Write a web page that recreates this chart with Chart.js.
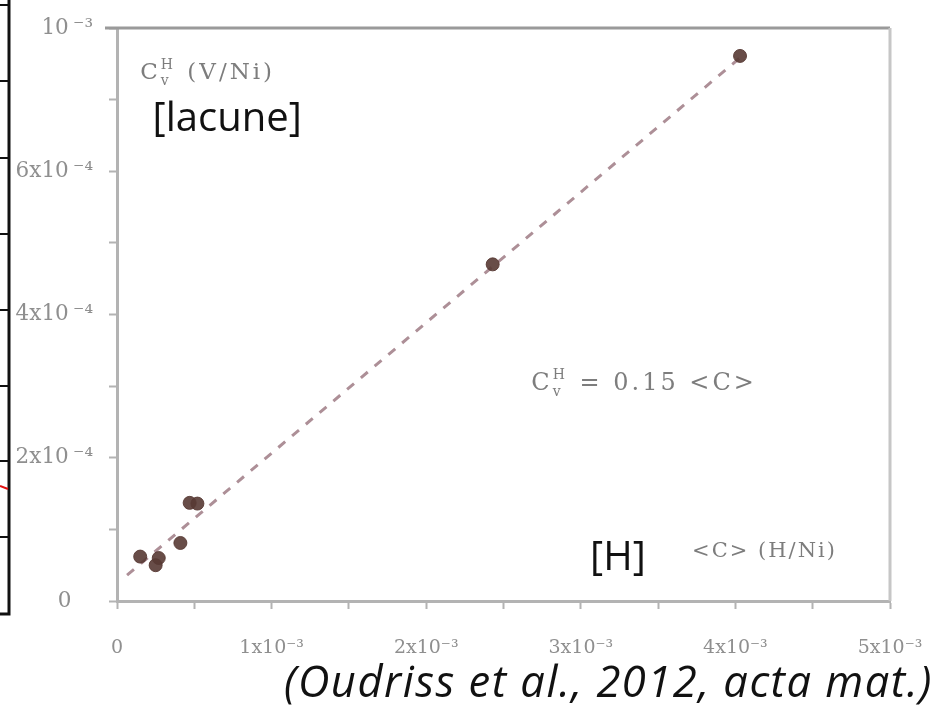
<!DOCTYPE html>
<html>
<head>
<meta charset="utf-8">
<script src="https://cdn.jsdelivr.net/npm/chart.js@4.4.1/dist/chart.umd.min.js"></script>
<style>
  html, body { margin: 0; padding: 0; background: #fff; }
  #wrap { width: 940px; height: 709px; position: relative; }
</style>
</head>
<body>
<div id="wrap"><canvas id="vacancyChart" width="940" height="709"></canvas></div>
<script>
// <C> (H/Ni) against vacancy concentration C_v^H (V/Ni)
const bulkH = [0.15e-3, 0.25e-3, 0.27e-3, 0.41e-3, 0.47e-3, 0.52e-3, 2.43e-3, 4.03e-3];
const vacancy = [0.62e-4, 0.50e-4, 0.60e-4, 0.81e-4, 1.37e-4, 1.36e-4, 4.70e-4, 7.61e-4];

// dashed trend line end points
const fitX = [0.065e-3, 4.06e-3];
const fitY = [0.36e-4, 7.64e-4];

const xTickValues = [0, 0.5e-3, 1e-3, 1.5e-3, 2e-3, 2.5e-3, 3e-3, 3.5e-3, 4e-3, 4.5e-3, 5e-3];
const xTickLabels = ['0', '', '1x10⁻³', '', '2x10⁻³', '', '3x10⁻³', '', '4x10⁻³', '', '5x10⁻³'];
const yTickValues = [0, 1e-4, 2e-4, 3e-4, 4e-4, 5e-4, 6e-4, 7e-4, 8e-4];
const yTickLabels = ['0\u2002\u2002', '', '2x10\u2009⁻⁴', '', '4x10\u2009⁻⁴', '', '6x10\u2009⁻⁴', '', '10\u2009⁻³'];

const axisGray = '#b3b3b3';
const labelGray = '#8f8f8f';
const serif = '"DejaVu Serif", "Liberation Serif", serif';

// text placed inside the plot, anchored in data units
const notes = [
    { x: 0.15e-3, y: 7.29e-4, base: 'C', sup: 'H', sub: 'v', rest: ' (V/Ni)', size: 23, spacing: 3 },
    { x: 3.72e-3, y: 0.61e-4, base: '<C> (H/Ni)', size: 21, spacing: 2 },
    { x: 2.68e-3, y: 2.95e-4, base: 'C', sup: 'H', sub: 'v', rest: ' = 0.15 <C>', size: 24, spacing: 3 }
];
const tags = [
    { x: 0.23e-3, y: 6.56e-4, text: '[lacune]' },
    { x: 3.06e-3, y: 0.43e-4, text: '[H]' }
];

function drawNote(ctx, px, py, n) {
    ctx.fillStyle = '#7d7d7d';
    ctx.textBaseline = 'alphabetic';
    ctx.textAlign = 'left';
    ctx.letterSpacing = n.spacing + 'px';
    ctx.font = n.size + 'px ' + serif;
    ctx.fillText(n.base, px, py);
    let cx = px + ctx.measureText(n.base).width;
    if (n.sup) {
        const small = Math.round(n.size * 0.6);
        ctx.font = small + 'px ' + serif;
        ctx.fillText(n.sup, cx, py - n.size * 0.45);
        ctx.fillText(n.sub, cx, py + n.size * 0.25);
        cx += Math.max(ctx.measureText(n.sup).width, ctx.measureText(n.sub).width) + 1;
        ctx.font = n.size + 'px ' + serif;
        ctx.fillText(n.rest, cx, py);
    }
    ctx.letterSpacing = '0px';
}

const decorations = {
    id: 'decorations',
    afterDraw(chart) {
        const { ctx, chartArea: a, scales: { x, y } } = chart;
        ctx.save();

        // top and right frame
        ctx.lineWidth = 3;
        ctx.strokeStyle = '#9a9a9a';
        ctx.beginPath();
        ctx.moveTo(a.left - 12, a.top);
        ctx.lineTo(a.right, a.top);
        ctx.stroke();
        ctx.strokeStyle = '#c6c6c6';
        ctx.beginPath();
        ctx.moveTo(a.right, a.top);
        ctx.lineTo(a.right, a.bottom);
        ctx.stroke();

        notes.forEach(n => drawNote(ctx, x.getPixelForValue(n.x), y.getPixelForValue(n.y), n));

        ctx.fillStyle = '#111';
        ctx.font = '40px "Open Sans", "Liberation Sans", sans-serif';
        tags.forEach(t => ctx.fillText(t.text, x.getPixelForValue(t.x), y.getPixelForValue(t.y)));

        // source line under the axis
        ctx.textAlign = 'right';
        ctx.letterSpacing = '1.5px';
        ctx.font = 'italic 43.5px "Open Sans", "Liberation Sans", sans-serif';
        ctx.fillText('(Oudriss et al., 2012, acta mat.)', 933, 697);
        ctx.letterSpacing = '0px';

        // edge of the neighbouring panel
        ctx.strokeStyle = '#111';
        ctx.lineWidth = 3;
        ctx.beginPath();
        ctx.moveTo(9, 0);
        ctx.lineTo(9, 614);
        ctx.lineTo(0, 614);
        ctx.stroke();
        ctx.lineWidth = 2;
        [5, 81, 158, 234, 310, 386, 461, 537].forEach(ty => {
            ctx.beginPath();
            ctx.moveTo(0, ty);
            ctx.lineTo(9, ty);
            ctx.stroke();
        });
        ctx.strokeStyle = '#e01010';
        ctx.beginPath();
        ctx.moveTo(0, 486);
        ctx.lineTo(8, 489);
        ctx.stroke();

        ctx.restore();
    }
};

new Chart(document.getElementById('vacancyChart'), {
    type: 'scatter',
    data: {
        datasets: [
            {
                label: 'fit',
                data: fitX.map((v, i) => ({ x: v, y: fitY[i] })),
                showLine: true,
                borderColor: '#ad8f97',
                borderWidth: 3,
                borderDash: [9, 9],
                pointRadius: 0,
                order: 2
            },
            {
                label: 'C_v^H',
                data: bulkH.map((v, i) => ({ x: v, y: vacancy[i] })),
                backgroundColor: 'rgba(88, 58, 52, 0.9)',
                borderColor: 'rgba(88, 58, 52, 0.9)',
                pointRadius: 6.5,
                order: 1
            }
        ]
    },
    options: {
        responsive: false,
        animation: false,
        layout: { padding: { top: 28, right: 50, left: 0, bottom: 0 } },
        plugins: {
            legend: { display: false },
            tooltip: { enabled: false }
        },
        scales: {
            x: {
                type: 'linear',
                min: 0,
                max: 5e-3,
                afterFit: scale => {
                    scale.height = 108;
                    scale.paddingLeft = 0;
                    scale.paddingRight = 0;
                },
                afterBuildTicks: axis => { axis.ticks = xTickValues.map(v => ({ value: v })); },
                border: { color: axisGray, width: 3 },
                grid: { drawOnChartArea: false, color: axisGray, tickLength: 8, tickWidth: 2 },
                ticks: {
                    padding: 28,
                    color: labelGray,
                    font: { family: serif, size: 19 },
                    maxRotation: 0,
                    autoSkip: false,
                    callback: (value, index) => xTickLabels[index]
                }
            },
            y: {
                type: 'linear',
                min: 0,
                max: 8e-4,
                afterFit: scale => {
                    scale.width = 117;
                    scale.paddingTop = 0;
                    scale.paddingBottom = 0;
                },
                afterBuildTicks: axis => { axis.ticks = yTickValues.map(v => ({ value: v })); },
                border: { color: axisGray, width: 3 },
                grid: { drawOnChartArea: false, color: axisGray, tickLength: 8, tickWidth: 2 },
                ticks: {
                    padding: 16,
                    color: labelGray,
                    font: { family: serif, size: 21.5 },
                    autoSkip: false,
                    callback: (value, index) => yTickLabels[index]
                }
            }
        }
    },
    plugins: [decorations]
});
</script>
</body>
</html>
